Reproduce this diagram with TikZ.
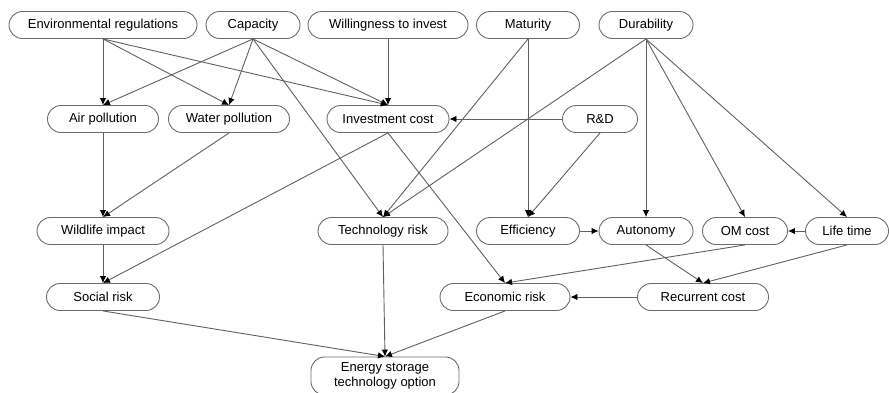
\documentclass[tikz,border=0pt]{standalone}
\usepackage{fontspec}
\setmainfont{Liberation Sans}
\usetikzlibrary{arrows.meta,positioning}

\tikzset{
  factor/.style={draw=gray!85!black, line width=0.9pt, rounded corners=13.5pt,
    minimum height=27pt, inner sep=2pt, align=center,
    font=\fontsize{13}{15}\selectfont},
  link/.style={draw=gray!75!black, line width=0.9pt,
    -{Latex[length=7pt,width=6.5pt,black]}}
}

\begin{document}
\begin{tikzpicture}[x=1pt,y=-1pt]
\useasboundingbox (0,0) rectangle (889,392);

% Top row of drivers.
\node[factor, minimum width=188pt] (envreg)   at (103,25) {Environmental regulations};
\node[factor, minimum width=94pt]  (capacity) at (253,25) {Capacity};
\node[factor, minimum width=160pt] (willing)  at (388,25) {Willingness to invest};
\node[factor, minimum width=103pt] (maturity) at (528,25) {Maturity};
\node[factor, minimum width=94pt]  (durable)  at (646,25) {Durability};

% Second row.
\node[factor, minimum width=111pt] (airpol)   at (103,119) {Air pollution};
\node[factor, minimum width=121pt] (waterpol) at (229,119) {Water pollution};
\node[factor, minimum width=122pt] (invcost)  at (388,119) {Investment cost};
\node[factor, minimum width=75pt]  (rnd)      at (600,119) {R\&D};

% Third row.
\node[factor, minimum width=132pt] (wildlife) at (103,231) {Wildlife impact};
\node[factor, minimum width=130pt] (techrisk) at (383,231) {Technology risk};
\node[factor, minimum width=103pt] (effic)    at (528,231) {Efficiency};
\node[factor, minimum width=94pt]  (autonomy) at (646,231) {Autonomy};
\node[factor, minimum width=85pt]  (omcost)   at (745,231) {OM cost};
\node[factor, minimum width=83pt]  (lifetime) at (847,231) {Life time};

% Risks.
\node[factor, minimum width=113pt] (socrisk)  at (103,297) {Social risk};
\node[factor, minimum width=130pt] (ecorisk)  at (505,297) {Economic risk};
\node[factor, minimum width=131pt] (reccost)  at (703,297) {Recurrent cost};

% Decision node.
\node[factor, minimum width=148pt, minimum height=38pt] (option) at (385,376)
  {Energy storage\\technology option};

% Links from the top row.
\foreach \a/\b in {envreg/airpol, envreg/waterpol, envreg/invcost,
    capacity/airpol, capacity/waterpol, capacity/invcost, capacity/techrisk,
    willing/invcost, maturity/techrisk, maturity/effic,
    durable/techrisk, durable/autonomy, durable/omcost, durable/lifetime}
  \draw[link] (\a.south) -- (\b.north);

% Links further down.
\foreach \a/\b in {rnd/effic, airpol/wildlife, waterpol/wildlife,
    invcost/socrisk, invcost/ecorisk, wildlife/socrisk,
    autonomy/reccost, lifetime/reccost, omcost/ecorisk,
    socrisk/option, techrisk/option, ecorisk/option}
  \draw[link] (\a.south) -- (\b.north);

% Sideways links.
\draw[link] (rnd.west) -- (invcost.east);
\draw[link] (effic.east) -- (autonomy.west);
\draw[link] (lifetime.west) -- (omcost.east);
\draw[link] (reccost.west) -- (ecorisk.east);
\end{tikzpicture}
\end{document}
